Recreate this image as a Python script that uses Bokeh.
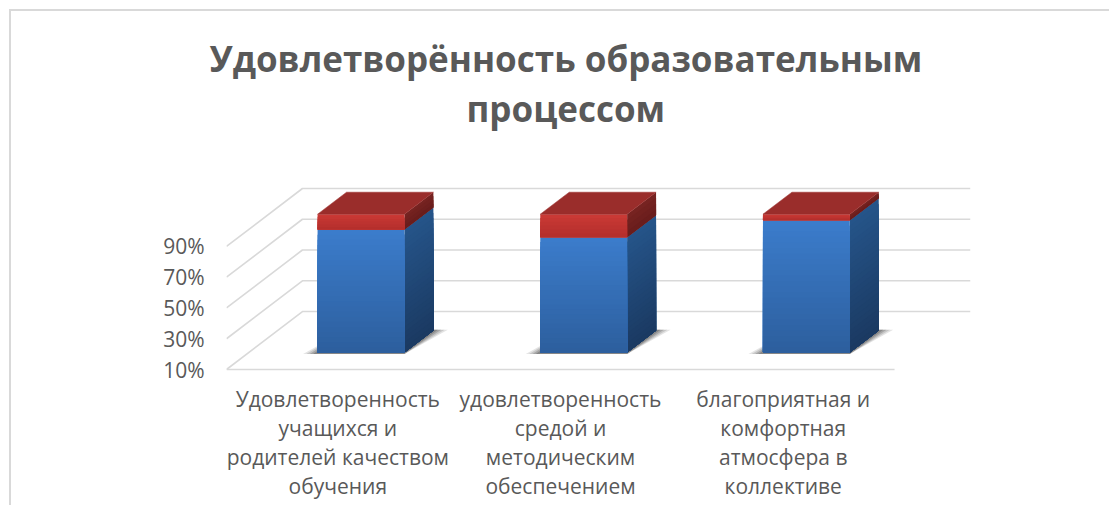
from bokeh.plotting import figure
from bokeh.embed import file_html
from bokeh.resources import INLINE
from bokeh.models import Range1d, FixedTicker, Title
import numpy as np

title_lines = ["Удовлетворённость образовательным", "процессом"]
categories = ["Удовлетворенность\nучащихся и\nродителей качеством\nобучения",
              "удовлетворенность\nсредой и\nметодическим\nобеспечением",
              "благоприятная и\nкомфортная\nатмосфера в\nколлективе"]
blue_values = [90, 85, 96]
red_values = [10, 15, 4]
y_ticks = [10, 30, 50, 70, 90]

FONT = "Open Sans"
TEXT = "#595959"
GRID = "#d9d9d9"
X_DEPTH, Y_DEPTH = 0.341, 37.7      # wall depth, axis units
BAR_OFF_X, BAR_OFF_Y = 0.104, 11.0  # bar front plane offset from axis plane
BAR_DX, BAR_DY = 0.130, 14.3        # bar depth
BAR_W = 0.39
N = 24

p = figure(width=1100, height=496, output_backend="svg", toolbar_location=None,
           x_range=Range1d(0, 3 + X_DEPTH), y_range=Range1d(8.05, 132.9),
           min_border_left=215, min_border_right=141, min_border_top=169, min_border_bottom=135,
           background_fill_color="white", border_fill_color="white")
p.margin = (9, 0, 0, 9)
border = "2px solid " + GRID
p.styles = {"border-top": border, "border-left": border}
p.grid.visible = False
p.outline_line_color = None

# one title per line, so that each is centred by itself
for text, standoff, offset in zip(reversed(title_lines), [98, -96], [240, -17]):
    t = Title(text=text, align="left", text_font=FONT, text_font_size="35px",
              text_font_style="bold", text_color=TEXT, standoff=standoff, offset=offset)
    p.add_layout(t, "above")

p.yaxis.ticker = FixedTicker(ticks=y_ticks)
p.yaxis.major_label_overrides = {t: f"{t}%" for t in y_ticks}
p.yaxis.axis_line_color = None
p.yaxis.major_tick_line_color = None
p.yaxis.minor_tick_line_color = None
p.yaxis.major_label_standoff = 16
p.yaxis.major_label_text_font = FONT
p.yaxis.major_label_text_font_size = "21px"
p.yaxis.major_label_text_color = TEXT

pos = [i + 0.5 for i in range(len(categories))]
p.xaxis.ticker = FixedTicker(ticks=pos)
p.xaxis.major_label_overrides = dict(zip(pos, categories))
p.xaxis.axis_line_color = None
p.xaxis.major_tick_line_color = None
p.xaxis.minor_tick_line_color = None
p.xaxis.major_label_standoff = 6
p.xaxis.major_label_text_font = FONT
p.xaxis.major_label_text_font_size = "21px"
p.xaxis.major_label_text_line_height = 1.04
p.xaxis.major_label_text_color = TEXT

# walls and floor
lw = 1.6
for t in y_ticks:
    p.line([0, X_DEPTH, 3 + X_DEPTH], [t, t + Y_DEPTH, t + Y_DEPTH], line_color=GRID, line_width=lw)
p.line([0, 3], [y_ticks[0], y_ticks[0]], line_color=GRID, line_width=lw)


def mix(a, b, t):
    a, b = np.array(a), np.array(b)
    c = (a + (b - a) * t).astype(int)
    return "#%02x%02x%02x" % tuple(c)


def banded(face, y0, y1, top_col, bot_col, n=N):
    # largest band first, each later one painted over it: no seams between bands
    edges = np.linspace(y0, y1, n + 1)
    xs, ys, cols = [], [], []
    for i in range(n - 1, -1, -1):
        px, py = face(y0, edges[i + 1])
        xs.append(px); ys.append(py)
        cols.append(mix(bot_col, top_col, (i + 0.5) / n))
    p.patches(xs, ys, fill_color=cols, line_color=None)


base = y_ticks[0] + BAR_OFF_Y
for c, b, r in zip(pos, blue_values, red_values):
    x0 = c + BAR_OFF_X - BAR_W / 2
    x1 = x0 + BAR_W
    yb = b + BAR_OFF_Y
    yt = b + r + BAR_OFF_Y

    def side(a, s):
        return [x1, x1 + BAR_DX, x1 + BAR_DX, x1], [a, a + BAR_DY, s + BAR_DY, s]

    def front(a, s):
        return [x0, x1, x1, x0], [a, a, s, s]

    # soft floor shadow
    for grow, alpha in [(0.065, 0.14), (0.05, 0.18), (0.035, 0.24), (0.02, 0.3)]:
        p.patch([x0 - grow, x1, x1 + BAR_DX + grow, x0 + BAR_DX],
                [base - 1, base - 1, base + BAR_DY + 0.5, base + BAR_DY + 0.5],
                fill_color="#404040", fill_alpha=alpha, line_color=None)
    banded(side, base, yb, (38, 85, 138), (27, 58, 98))
    banded(front, base, yb, (60, 125, 204), (45, 95, 158))
    banded(side, yb, yt, (120, 36, 34), (104, 28, 28), n=4)
    banded(front, yb, yt, (203, 58, 54), (180, 46, 44), n=6)
    # top
    p.patch([x0, x1, x1 + BAR_DX, x0 + BAR_DX], [yt, yt, yt + BAR_DY, yt + BAR_DY],
            fill_color="#9a2d2b", line_color="#9a2d2b", line_width=0.5)

open("out.html", "w").write(file_html(p, INLINE))
